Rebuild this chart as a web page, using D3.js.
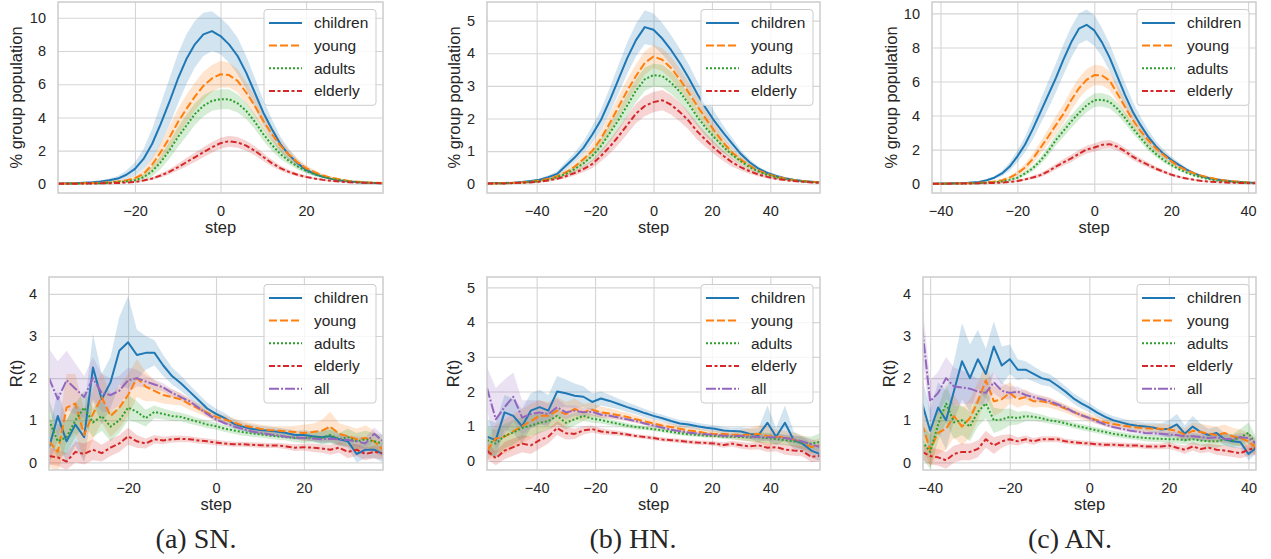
<!DOCTYPE html>
<html>
<head>
<meta charset="utf-8">
<script src="https://cdn.jsdelivr.net/npm/d3@7"></script>
<style>
  body { margin: 0; background: #fff; }
  svg text { font-family: "Liberation Sans", Arial, sans-serif; fill: #262626; }
</style>
</head>
<body>
<svg id="chart" width="1271" height="559"></svg>
<script>
// ---- top row: % group population (mean and half width of the band) ----
const snPopSteps = d3.range(-38, 39, 2);
const snPopChildren = [0.02,0.03,0.04,0.06,0.09,0.14,0.22,0.32,0.55,0.9, 1.5,2.4,3.6,4.9,6.3,7.5,8.4,9.0,9.2,8.9, 8.4,7.7,6.7,5.5,4.3,3.3,2.4,1.75,1.25,0.85, 0.6,0.42,0.3,0.2,0.14,0.1,0.07,0.05,0.04];
const snPopChildrenBand = [0.01,0.01,0.02,0.03,0.04,0.06,0.1,0.15,0.25,0.4, 0.6,0.9,1.2,1.4,1.5,1.5,1.4,1.3,1.2,1.1, 1.1,1.1,1.0,0.9,0.75,0.6,0.45,0.35,0.25,0.18, 0.12,0.08,0.06,0.04,0.03,0.02,0.02,0.01,0.01];
const snPopYoung = [0.02,0.02,0.03,0.04,0.05,0.07,0.1,0.15,0.22,0.35, 0.6,1.15,1.9,2.75,3.7,4.5,5.25,5.9,6.35,6.6, 6.55,6.2,5.5,4.7,3.8,3.0,2.3,1.75,1.3,0.95, 0.7,0.5,0.36,0.26,0.18,0.13,0.09,0.07,0.05];
const snPopYoungBand = [0.01,0.01,0.01,0.02,0.02,0.03,0.04,0.05,0.08,0.15, 0.25,0.4,0.55,0.7,0.8,0.85,0.85,0.85,0.8,0.8, 0.75,0.7,0.65,0.6,0.5,0.45,0.35,0.3,0.22,0.18, 0.14,0.1,0.08,0.06,0.05,0.04,0.03,0.02,0.02];
const snPopAdults = [0.01,0.01,0.02,0.02,0.03,0.04,0.07,0.1,0.15,0.22, 0.4,0.75,1.3,2.0,2.8,3.5,4.2,4.7,5.0,5.1, 5.1,4.85,4.4,3.75,3.0,2.35,1.8,1.38,1.05,0.78, 0.58,0.42,0.3,0.22,0.15,0.11,0.08,0.06,0.05];
const snPopAdultsBand = [0.01,0.01,0.01,0.01,0.02,0.02,0.03,0.04,0.06,0.1, 0.18,0.3,0.4,0.5,0.6,0.65,0.65,0.65,0.6,0.6, 0.6,0.55,0.5,0.45,0.4,0.35,0.3,0.22,0.18,0.14, 0.1,0.08,0.06,0.05,0.04,0.03,0.02,0.02,0.02];
const snPopElderly = [0.01,0.01,0.01,0.02,0.02,0.03,0.04,0.05,0.08,0.12, 0.2,0.32,0.5,0.72,1.0,1.3,1.6,1.9,2.2,2.45, 2.57,2.5,2.3,2.0,1.62,1.25,0.95,0.72,0.55,0.42, 0.32,0.24,0.18,0.13,0.1,0.08,0.06,0.05,0.04];
const snPopElderlyBand = [0.01,0.01,0.01,0.01,0.01,0.01,0.02,0.02,0.03,0.04, 0.06,0.08,0.12,0.16,0.2,0.25,0.28,0.3,0.32,0.33, 0.33,0.32,0.3,0.27,0.24,0.2,0.16,0.13,0.1,0.08, 0.06,0.05,0.04,0.03,0.03,0.02,0.02,0.02,0.02];

const hnPopSteps = d3.range(-57, 58, 3);
const hnPopChildren = [0.01,0.02,0.02,0.03,0.05,0.08,0.12,0.2,0.3,0.55, 0.8,1.1,1.5,1.95,2.55,3.2,3.85,4.4,4.8,4.72, 4.45,4.1,3.7,3.25,2.75,2.3,1.9,1.55,1.22,0.9, 0.65,0.46,0.33,0.24,0.17,0.12,0.08,0.06,0.04];
const hnPopChildrenBand = [0.01,0.01,0.01,0.02,0.02,0.03,0.04,0.06,0.08,0.12, 0.16,0.2,0.26,0.32,0.38,0.44,0.48,0.5,0.52,0.5, 0.48,0.46,0.44,0.42,0.38,0.34,0.28,0.22,0.17,0.12, 0.09,0.07,0.05,0.04,0.03,0.02,0.02,0.01,0.01];
const hnPopYoung = [0.01,0.01,0.02,0.03,0.04,0.06,0.1,0.15,0.23,0.35, 0.52,0.75,1.0,1.38,1.85,2.35,2.85,3.3,3.7,3.9, 3.8,3.55,3.2,2.8,2.38,1.98,1.6,1.25,0.95,0.73, 0.55,0.4,0.3,0.22,0.16,0.11,0.08,0.06,0.04];
const hnPopYoungBand = [0.01,0.01,0.01,0.01,0.02,0.02,0.03,0.04,0.06,0.08, 0.11,0.15,0.2,0.25,0.3,0.33,0.35,0.36,0.36,0.35, 0.35,0.34,0.33,0.31,0.28,0.25,0.22,0.18,0.14,0.11, 0.08,0.06,0.05,0.04,0.03,0.02,0.02,0.01,0.01];
const hnPopAdults = [0.01,0.01,0.01,0.02,0.03,0.05,0.08,0.12,0.2,0.3, 0.45,0.62,0.85,1.15,1.55,1.95,2.4,2.85,3.2,3.33, 3.3,3.1,2.82,2.45,2.05,1.7,1.4,1.12,0.88,0.68, 0.5,0.37,0.27,0.2,0.14,0.1,0.07,0.05,0.03];
const hnPopAdultsBand = [0.01,0.01,0.01,0.01,0.01,0.02,0.03,0.04,0.05,0.07, 0.1,0.13,0.17,0.22,0.27,0.31,0.34,0.35,0.36,0.35, 0.35,0.34,0.33,0.31,0.28,0.25,0.22,0.18,0.14,0.11, 0.08,0.06,0.05,0.04,0.03,0.02,0.02,0.01,0.01];
const hnPopElderly = [0.01,0.01,0.01,0.02,0.03,0.04,0.06,0.1,0.15,0.23, 0.33,0.45,0.6,0.85,1.13,1.45,1.8,2.15,2.38,2.5, 2.56,2.42,2.2,1.93,1.6,1.33,1.08,0.85,0.65,0.5, 0.38,0.28,0.21,0.15,0.11,0.08,0.06,0.04,0.03];
const hnPopElderlyBand = [0.01,0.01,0.01,0.01,0.01,0.02,0.02,0.03,0.04,0.06, 0.08,0.1,0.13,0.17,0.21,0.25,0.28,0.3,0.31,0.31, 0.31,0.3,0.29,0.27,0.25,0.22,0.19,0.16,0.13,0.1, 0.08,0.06,0.05,0.04,0.03,0.02,0.02,0.01,0.01];

const anPopSteps = d3.range(-42, 43, 2);
const anPopChildren = [0.0,0.01,0.01,0.02,0.03,0.06,0.1,0.2,0.35,0.6, 1.0,1.6,2.3,3.2,4.2,5.2,6.2,7.3,8.3,9.1, 9.33,9.0,8.3,7.4,6.3,5.2,4.23,3.45,2.76,2.2, 1.75,1.4,1.1,0.82,0.6,0.43,0.32,0.24,0.18,0.13, 0.1,0.07,0.05];
const anPopChildrenBand = [0.0,0.0,0.01,0.01,0.01,0.02,0.03,0.05,0.08,0.15, 0.25,0.35,0.45,0.6,0.7,0.8,0.85,0.9,0.9,0.9, 0.9,0.9,0.85,0.8,0.75,0.7,0.6,0.5,0.4,0.3, 0.25,0.2,0.15,0.12,0.09,0.07,0.05,0.04,0.03,0.02, 0.02,0.01,0.01];
const anPopYoung = [0.0,0.0,0.01,0.01,0.02,0.03,0.05,0.08,0.12,0.2, 0.35,0.6,0.95,1.45,2.1,2.75,3.44,4.1,4.9,5.6, 6.1,6.38,6.35,6.05,5.3,4.5,3.74,3.1,2.56,2.08, 1.68,1.32,1.0,0.78,0.6,0.45,0.35,0.26,0.19,0.14, 0.1,0.07,0.05];
const anPopYoungBand = [0.0,0.0,0.0,0.01,0.01,0.01,0.02,0.03,0.04,0.06, 0.1,0.15,0.22,0.3,0.38,0.45,0.52,0.57,0.6,0.62, 0.62,0.6,0.58,0.55,0.5,0.45,0.4,0.35,0.3,0.25, 0.2,0.16,0.12,0.1,0.08,0.06,0.05,0.04,0.03,0.02, 0.02,0.01,0.01];
const anPopAdults = [0.0,0.0,0.0,0.01,0.01,0.02,0.03,0.05,0.08,0.13, 0.22,0.35,0.6,0.9,1.35,1.9,2.56,3.1,3.65,4.15, 4.6,4.9,4.93,4.8,4.4,3.85,3.25,2.7,2.17,1.75, 1.39,1.1,0.85,0.65,0.48,0.36,0.25,0.18,0.13,0.1, 0.07,0.05,0.04];
const anPopAdultsBand = [0.0,0.0,0.0,0.0,0.01,0.01,0.01,0.02,0.03,0.04, 0.06,0.09,0.13,0.17,0.22,0.27,0.32,0.36,0.38,0.4, 0.4,0.4,0.4,0.38,0.36,0.33,0.3,0.26,0.22,0.18, 0.15,0.12,0.1,0.08,0.06,0.05,0.04,0.03,0.02,0.02, 0.01,0.01,0.01];
const anPopElderly = [0.0,0.0,0.0,0.01,0.01,0.01,0.02,0.03,0.04,0.06, 0.1,0.15,0.25,0.36,0.5,0.72,1.0,1.25,1.48,1.75, 2.0,2.12,2.28,2.32,2.17,1.9,1.58,1.32,1.1,0.88, 0.7,0.53,0.4,0.3,0.22,0.16,0.12,0.09,0.07,0.05, 0.04,0.03,0.02];
const anPopElderlyBand = [0.0,0.0,0.0,0.0,0.0,0.01,0.01,0.01,0.02,0.03, 0.04,0.06,0.08,0.1,0.12,0.15,0.17,0.19,0.21,0.22, 0.23,0.24,0.24,0.24,0.23,0.21,0.19,0.17,0.15,0.13, 0.11,0.09,0.07,0.06,0.05,0.04,0.03,0.02,0.02,0.01, 0.01,0.01,0.01];

// ---- bottom row: R(t) ----
const snRtSteps = d3.range(-38, 39, 2);
const snRtChildren = [0.35,1.1,0.5,0.9,0.6,2.25,1.5,1.9,2.65,2.85, 2.55,2.6,2.6,2.3,2.05,1.88,1.68,1.48,1.28,1.15, 1.05,0.92,0.85,0.8,0.77,0.75,0.73,0.7,0.65,0.65, 0.62,0.6,0.62,0.55,0.5,0.2,0.3,0.3,0.2];
const snRtChildrenBand = [0.4,0.6,0.5,0.5,0.6,0.8,0.6,0.6,0.8,1.1, 0.6,0.4,0.3,0.25,0.2,0.18,0.16,0.15,0.14,0.13, 0.12,0.11,0.1,0.1,0.1,0.1,0.1,0.1,0.1,0.12, 0.12,0.15,0.15,0.15,0.15,0.2,0.2,0.2,0.2];
const snRtYoung = [0.5,0.25,1.3,1.4,0.65,1.15,1.55,1.1,1.3,1.6, 2.0,1.8,1.7,1.6,1.55,1.5,1.38,1.28,1.18,1.08, 1.02,0.95,0.88,0.84,0.8,0.77,0.76,0.74,0.72,0.7, 0.72,0.75,0.85,0.68,0.62,0.55,0.58,0.5,0.3];
const snRtYoungBand = [0.6,0.5,0.8,0.7,0.6,0.6,0.6,0.5,0.5,0.5, 0.45,0.35,0.25,0.2,0.18,0.15,0.13,0.12,0.11,0.1, 0.1,0.1,0.1,0.1,0.1,0.1,0.1,0.12,0.15,0.2, 0.2,0.25,0.35,0.25,0.25,0.25,0.3,0.25,0.2];
const snRtAdults = [1.0,0.5,0.6,1.0,1.3,0.95,1.1,0.85,1.0,1.3, 1.2,1.05,1.2,1.15,1.1,1.08,1.02,0.96,0.9,0.86, 0.8,0.76,0.72,0.69,0.67,0.64,0.62,0.6,0.58,0.58, 0.6,0.58,0.65,0.55,0.6,0.5,0.55,0.5,0.45];
const snRtAdultsBand = [0.5,0.4,0.4,0.4,0.4,0.35,0.35,0.35,0.3,0.3, 0.25,0.2,0.15,0.13,0.12,0.1,0.1,0.09,0.09,0.08, 0.08,0.08,0.08,0.08,0.08,0.08,0.08,0.08,0.1,0.12, 0.12,0.15,0.2,0.15,0.2,0.2,0.2,0.2,0.2];
const snRtElderly = [0.15,0.12,0.02,0.25,0.2,0.3,0.22,0.35,0.45,0.62, 0.5,0.45,0.55,0.52,0.55,0.56,0.55,0.52,0.5,0.47, 0.45,0.43,0.43,0.42,0.41,0.4,0.4,0.38,0.35,0.36, 0.35,0.33,0.3,0.35,0.25,0.3,0.2,0.25,0.22];
const snRtElderlyBand = [0.2,0.2,0.2,0.25,0.25,0.25,0.2,0.2,0.2,0.2, 0.15,0.12,0.1,0.09,0.08,0.08,0.07,0.07,0.07,0.07, 0.06,0.06,0.06,0.06,0.06,0.06,0.06,0.07,0.08,0.08, 0.1,0.1,0.12,0.12,0.15,0.15,0.15,0.15,0.15];
const snRtAll = [2.0,1.5,1.95,1.75,1.55,2.0,1.65,1.6,1.7,1.95, 2.0,1.92,1.85,1.78,1.65,1.55,1.45,1.3,1.15,1.02, 0.93,0.86,0.8,0.74,0.7,0.67,0.64,0.61,0.59,0.58, 0.57,0.55,0.56,0.55,0.53,0.5,0.45,0.68,0.5];
const snRtAllBand = [0.7,0.9,0.7,0.6,0.5,0.5,0.45,0.4,0.35,0.3, 0.2,0.15,0.12,0.1,0.09,0.08,0.07,0.06,0.06,0.05, 0.05,0.05,0.05,0.05,0.05,0.05,0.05,0.05,0.06,0.06, 0.07,0.08,0.08,0.1,0.1,0.12,0.15,0.15,0.15];

const hnRtSteps = d3.range(-57, 58, 3);
const hnRtChildren = [0.7,0.6,1.4,1.3,1.0,1.45,1.55,1.45,2.0,1.95, 1.88,1.85,1.7,1.8,1.73,1.64,1.55,1.47,1.38,1.3, 1.23,1.15,1.08,1.05,1.0,0.96,0.93,0.88,0.86,0.85, 0.78,0.75,1.1,0.7,1.1,0.6,0.5,0.3,0.2];
const hnRtChildrenBand = [0.5,0.5,0.5,0.5,0.5,0.5,0.5,0.45,0.45,0.4, 0.35,0.3,0.25,0.2,0.18,0.15,0.14,0.13,0.12,0.11, 0.1,0.1,0.1,0.1,0.1,0.1,0.1,0.1,0.1,0.12, 0.15,0.2,0.5,0.25,0.5,0.25,0.2,0.2,0.2];
const hnRtYoung = [0.3,0.65,0.7,0.85,1.0,1.15,1.3,1.3,1.45,1.35, 1.5,1.4,1.48,1.4,1.37,1.32,1.27,1.2,1.14,1.08, 1.02,0.98,0.93,0.88,0.85,0.8,0.78,0.78,0.76,0.75, 0.76,0.78,0.72,0.7,0.68,0.62,0.55,0.4,0.45];
const hnRtYoungBand = [0.3,0.4,0.5,0.5,0.5,0.5,0.45,0.4,0.4,0.35, 0.3,0.25,0.2,0.17,0.15,0.13,0.12,0.11,0.1,0.1, 0.1,0.1,0.1,0.1,0.1,0.1,0.1,0.12,0.12,0.15, 0.2,0.25,0.3,0.2,0.2,0.2,0.2,0.2,0.2];
const hnRtAdults = [0.6,0.5,0.72,0.82,0.95,1.02,1.1,1.15,1.3,1.1, 1.2,1.3,1.22,1.18,1.12,1.07,1.02,0.98,0.95,0.92, 0.88,0.84,0.8,0.77,0.75,0.73,0.72,0.7,0.7,0.69, 0.68,0.68,0.66,0.63,0.6,0.57,0.52,0.5,0.55];
const hnRtAdultsBand = [0.4,0.4,0.35,0.35,0.3,0.3,0.3,0.25,0.25,0.2, 0.18,0.15,0.12,0.1,0.09,0.08,0.07,0.07,0.06,0.06, 0.06,0.06,0.06,0.06,0.06,0.06,0.06,0.07,0.08,0.1, 0.12,0.15,0.15,0.15,0.15,0.15,0.2,0.2,0.25];
const hnRtElderly = [0.3,0.08,0.3,0.4,0.5,0.45,0.6,0.7,0.95,0.8, 0.78,0.88,0.92,0.85,0.82,0.8,0.76,0.72,0.69,0.66, 0.62,0.6,0.58,0.55,0.53,0.52,0.5,0.46,0.5,0.45, 0.42,0.45,0.38,0.4,0.33,0.3,0.28,0.12,0.15];
const hnRtElderlyBand = [0.25,0.2,0.25,0.25,0.25,0.25,0.25,0.2,0.2,0.18, 0.15,0.12,0.1,0.09,0.08,0.07,0.06,0.06,0.06,0.06, 0.06,0.06,0.06,0.06,0.06,0.06,0.07,0.08,0.08,0.1, 0.1,0.12,0.12,0.12,0.15,0.15,0.15,0.15,0.15];
const hnRtAll = [2.1,1.2,1.55,1.85,1.25,1.35,1.4,1.35,1.55,1.4, 1.45,1.4,1.42,1.33,1.3,1.25,1.2,1.15,1.08,1.02, 0.96,0.9,0.86,0.82,0.79,0.77,0.75,0.73,0.72,0.72, 0.7,0.69,0.68,0.68,0.66,0.62,0.56,0.48,0.4];
const hnRtAllBand = [0.6,0.9,0.8,0.7,0.5,0.4,0.35,0.3,0.25,0.2, 0.15,0.12,0.1,0.08,0.07,0.06,0.05,0.05,0.05,0.05, 0.05,0.05,0.05,0.05,0.05,0.05,0.05,0.05,0.06,0.06, 0.07,0.08,0.1,0.1,0.1,0.12,0.12,0.15,0.15];

const anRtSteps = d3.range(-42, 43, 2);
const anRtChildren = [1.4,0.75,1.3,1.0,1.7,2.4,2.0,2.45,2.1,2.75, 2.3,2.45,2.2,2.2,2.1,2.0,1.95,1.82,1.68,1.52, 1.4,1.3,1.18,1.08,1.0,0.95,0.9,0.87,0.85,0.83, 0.78,0.8,0.9,0.68,0.85,0.72,0.65,0.7,0.55,0.5, 0.48,0.2,0.35];
const anRtChildrenBand = [0.6,0.5,0.6,0.7,0.7,0.9,0.8,0.7,0.6,0.6, 0.45,0.35,0.25,0.2,0.18,0.16,0.15,0.14,0.13,0.12, 0.12,0.11,0.1,0.1,0.1,0.1,0.1,0.1,0.1,0.12, 0.15,0.2,0.25,0.2,0.25,0.2,0.15,0.15,0.15,0.15, 0.15,0.15,0.15];
const anRtYoung = [0.9,0.3,0.7,0.8,1.1,0.85,1.05,1.45,1.95,1.45, 1.5,1.65,1.5,1.55,1.45,1.45,1.42,1.35,1.28,1.2, 1.12,1.06,1.0,0.95,0.91,0.88,0.85,0.83,0.81,0.8, 0.8,0.78,0.75,0.66,0.75,0.72,0.68,0.65,0.7,0.62, 0.58,0.5,0.35];
const anRtYoungBand = [0.5,0.4,0.5,0.5,0.5,0.45,0.45,0.45,0.4,0.35, 0.3,0.25,0.2,0.18,0.15,0.13,0.12,0.11,0.1,0.1, 0.1,0.09,0.09,0.09,0.09,0.09,0.09,0.1,0.1,0.1, 0.12,0.12,0.15,0.15,0.2,0.2,0.2,0.2,0.2,0.2, 0.2,0.2,0.2];
const anRtAdults = [0.5,0.25,0.9,1.4,0.95,1.0,0.85,1.2,1.4,1.0, 1.02,1.08,1.05,1.1,1.08,1.05,1.0,0.97,0.93,0.88, 0.84,0.8,0.76,0.72,0.68,0.65,0.62,0.6,0.58,0.57, 0.56,0.55,0.55,0.53,0.55,0.52,0.5,0.5,0.55,0.52, 0.6,0.7,0.4];
const anRtAdultsBand = [0.4,0.4,0.4,0.45,0.4,0.35,0.35,0.35,0.35,0.3, 0.25,0.2,0.15,0.12,0.1,0.09,0.08,0.08,0.07,0.07, 0.07,0.07,0.07,0.07,0.07,0.07,0.07,0.07,0.08,0.08, 0.08,0.1,0.1,0.1,0.12,0.12,0.15,0.15,0.15,0.15, 0.2,0.25,0.2];
const anRtElderly = [0.25,0.15,0.12,0.05,0.2,0.25,0.25,0.32,0.55,0.4, 0.5,0.55,0.5,0.55,0.5,0.55,0.55,0.55,0.5,0.48, 0.46,0.45,0.43,0.42,0.42,0.41,0.4,0.4,0.38,0.38, 0.38,0.4,0.35,0.3,0.38,0.32,0.35,0.3,0.28,0.25, 0.22,0.3,0.35];
const anRtElderlyBand = [0.2,0.2,0.2,0.2,0.2,0.2,0.2,0.2,0.2,0.2, 0.15,0.12,0.1,0.09,0.08,0.07,0.07,0.07,0.06,0.06, 0.06,0.06,0.06,0.06,0.06,0.06,0.06,0.06,0.06,0.07, 0.07,0.08,0.08,0.1,0.1,0.1,0.1,0.12,0.12,0.12, 0.12,0.15,0.15];
const anRtAll = [3.2,1.45,1.65,2.0,1.8,1.78,1.75,1.68,1.65,1.9, 1.7,1.65,1.68,1.6,1.55,1.5,1.45,1.38,1.3,1.2, 1.12,1.05,0.97,0.9,0.84,0.8,0.76,0.73,0.7,0.69, 0.68,0.66,0.65,0.62,0.62,0.6,0.58,0.6,0.56,0.55, 0.6,0.58,0.45];
const anRtAllBand = [0.6,0.5,0.5,0.5,0.45,0.4,0.35,0.3,0.3,0.25, 0.2,0.15,0.12,0.1,0.09,0.08,0.07,0.06,0.06,0.05, 0.05,0.05,0.05,0.05,0.05,0.05,0.05,0.05,0.05,0.05, 0.06,0.06,0.07,0.07,0.08,0.08,0.08,0.1,0.1,0.1, 0.1,0.12,0.12];

const captions = ["(a) SN.", "(b) HN.", "(c) AN."];

// seaborn-ish styles per group (dashes are seaborn's defaults times the line width)
const groupColor = {children: "#1f77b4", young: "#ff7f0e", adults: "#2ca02c", elderly: "#d62728", all: "#9467bd"};
const groupDash = {children: null, young: "8,3", adults: "2,2", elderly: "6,2.5,3,2.5", all: "10,2,2,2"};

const gridColor = "#d5d5d5";
const spineColor = "#cccccc";

const panels = [
    {box: [58, 2, 383, 193], xDomain: [-38, 38], yDomain: [-0.55, 10.95], xTicks: [-20, 0, 20], yTicks: [0, 2, 4, 6, 8, 10],
     yLabel: "% group population", yLabelX: 16, steps: snPopSteps,
     series: [["children", snPopChildren, snPopChildrenBand], ["young", snPopYoung, snPopYoungBand],
              ["adults", snPopAdults, snPopAdultsBand], ["elderly", snPopElderly, snPopElderlyBand]]},
    {box: [487, 2, 820, 193], xDomain: [-57, 57], yDomain: [-0.285, 5.57], xTicks: [-40, -20, 0, 20, 40], yTicks: [0, 1, 2, 3, 4, 5],
     yLabel: "% group population", yLabelX: 454, steps: hnPopSteps,
     series: [["children", hnPopChildren, hnPopChildrenBand], ["young", hnPopYoung, hnPopYoungBand],
              ["adults", hnPopAdults, hnPopAdultsBand], ["elderly", hnPopElderly, hnPopElderlyBand]]},
    {box: [932, 2, 1256, 193], xDomain: [-42.2, 42.05], yDomain: [-0.55, 10.67], xTicks: [-40, -20, 0, 20, 40], yTicks: [0, 2, 4, 6, 8, 10],
     yLabel: "% group population", yLabelX: 891, steps: anPopSteps,
     series: [["children", anPopChildren, anPopChildrenBand], ["young", anPopYoung, anPopYoungBand],
              ["adults", anPopAdults, anPopAdultsBand], ["elderly", anPopElderly, anPopElderlyBand]]},
    {box: [49, 277, 383, 470], xDomain: [-38, 38], yDomain: [-0.18, 4.4], xTicks: [-20, 0, 20], yTicks: [0, 1, 2, 3, 4],
     yLabel: "R(t)", yLabelX: 16, steps: snRtSteps,
     series: [["children", snRtChildren, snRtChildrenBand], ["young", snRtYoung, snRtYoungBand],
              ["adults", snRtAdults, snRtAdultsBand], ["elderly", snRtElderly, snRtElderlyBand], ["all", snRtAll, snRtAllBand]]},
    {box: [487, 277, 820, 470], xDomain: [-57, 57], yDomain: [-0.26, 5.3], xTicks: [-40, -20, 0, 20, 40], yTicks: [0, 1, 2, 3, 4, 5],
     yLabel: "R(t)", yLabelX: 453, steps: hnRtSteps,
     series: [["children", hnRtChildren, hnRtChildrenBand], ["young", hnRtYoung, hnRtYoungBand],
              ["adults", hnRtAdults, hnRtAdultsBand], ["elderly", hnRtElderly, hnRtElderlyBand], ["all", hnRtAll, hnRtAllBand]]},
    {box: [923, 277, 1256, 470], xDomain: [-41.8, 41.9], yDomain: [-0.18, 4.4], xTicks: [-40, -20, 0, 20, 40], yTicks: [0, 1, 2, 3, 4],
     yLabel: "R(t)", yLabelX: 889, steps: anRtSteps,
     series: [["children", anRtChildren, anRtChildrenBand], ["young", anRtYoung, anRtYoungBand],
              ["adults", anRtAdults, anRtAdultsBand], ["elderly", anRtElderly, anRtElderlyBand], ["all", anRtAll, anRtAllBand]]}
];
const captionX = [196, 633, 1070];

const svg = d3.select("#chart");

panels.forEach(function(p, k) {
    const [x0, y0, x1, y1] = p.box;
    const x = d3.scaleLinear().domain(p.xDomain).range([x0, x1]);
    const y = d3.scaleLinear().domain(p.yDomain).range([y1, y0]);
    const g = svg.append("g");

    g.append("clipPath").attr("id", "clip" + k)
        .append("rect")
        .attr("x", x0).attr("y", y0)
        .attr("width", x1 - x0).attr("height", y1 - y0);

    // grid lines come from the axes
    const xAxis = g.append("g")
        .attr("transform", "translate(0," + y1 + ")")
        .call(d3.axisBottom(x).tickValues(p.xTicks).tickSize(-(y1 - y0)).tickPadding(13).tickFormat(d3.format("d")));
    const yAxis = g.append("g")
        .attr("transform", "translate(" + x0 + ",0)")
        .call(d3.axisLeft(y).tickValues(p.yTicks).tickSize(-(x1 - x0)).tickPadding(12).tickFormat(d3.format("d")));
    [xAxis, yAxis].forEach(function(a) {
        a.select(".domain").remove();
        a.attr("font-family", null).attr("font-size", null);
        a.selectAll("line").attr("stroke", gridColor).attr("stroke-width", 1.1);
        a.selectAll("text").attr("fill", "#262626").style("font-size", "14.5px");
    });

    const plot = g.append("g").attr("clip-path", "url(#clip" + k + ")");

    const area = d3.area()
        .x(d => x(d[0]))
        .y0(d => y(d[1] - d[2]))
        .y1(d => y(d[1] + d[2]));
    const line = d3.line()
        .x(d => x(d[0]))
        .y(d => y(d[1]));

    p.series.forEach(function(s) {
        const rows = d3.zip(p.steps, s[1], s[2]);
        plot.append("path")
            .attr("d", area(rows))
            .attr("fill", groupColor[s[0]])
            .attr("fill-opacity", 0.2)
            .attr("stroke", "none");
    });
    p.series.forEach(function(s) {
        const rows = d3.zip(p.steps, s[1], s[2]);
        plot.append("path")
            .attr("d", line(rows))
            .attr("fill", "none")
            .attr("stroke", groupColor[s[0]])
            .attr("stroke-width", 2)
            .attr("stroke-dasharray", groupDash[s[0]])
            .attr("stroke-linejoin", "round");
    });

    // spines
    g.append("rect")
        .attr("x", x0).attr("y", y0)
        .attr("width", x1 - x0).attr("height", y1 - y0)
        .attr("fill", "none")
        .attr("stroke", spineColor)
        .attr("stroke-width", 1.5);

    // axis labels
    g.append("text")
        .attr("x", (x0 + x1) / 2)
        .attr("y", y1 + 40)
        .attr("text-anchor", "middle")
        .style("font-size", "16.5px")
        .text("step");
    g.append("text")
        .attr("transform", "translate(" + p.yLabelX + "," + ((y0 + y1) / 2) + ") rotate(-90)")
        .attr("text-anchor", "middle")
        .attr("dy", "0.35em")
        .style("font-size", "16.5px")
        .text(p.yLabel);

    // legend, upper right
    const n = p.series.length;
    const leg = g.append("g").attr("transform", "translate(" + (x1 - 119) + "," + (y0 + 7.5) + ")");
    leg.append("rect")
        .attr("width", 112)
        .attr("height", 13.4 + (n - 1) * 22.7 + 14.3)
        .attr("rx", 3)
        .attr("fill", "#ffffff")
        .attr("fill-opacity", 0.8)
        .attr("stroke", spineColor)
        .attr("stroke-width", 1);
    p.series.forEach(function(s, i) {
        const ly = 13.4 + i * 22.7;
        leg.append("line")
            .attr("x1", 5).attr("x2", 38)
            .attr("y1", ly).attr("y2", ly)
            .attr("stroke", groupColor[s[0]])
            .attr("stroke-width", 2)
            .attr("stroke-dasharray", groupDash[s[0]]);
        leg.append("text")
            .attr("x", 50).attr("y", ly)
            .attr("dy", "0.35em")
            .style("font-size", "15.5px")
            .text(s[0]);
    });
});

// sub-figure captions
svg.selectAll("text.caption")
    .data(captions)
    .enter()
    .append("text")
    .attr("class", "caption")
    .attr("x", (d, i) => captionX[i])
    .attr("y", 538)
    .attr("dy", "0.35em")
    .attr("text-anchor", "middle")
    .style("font-family", "'Liberation Serif', 'Times New Roman', serif")
    .style("font-size", "28px")
    .text(d => d);
</script>
</body>
</html>
